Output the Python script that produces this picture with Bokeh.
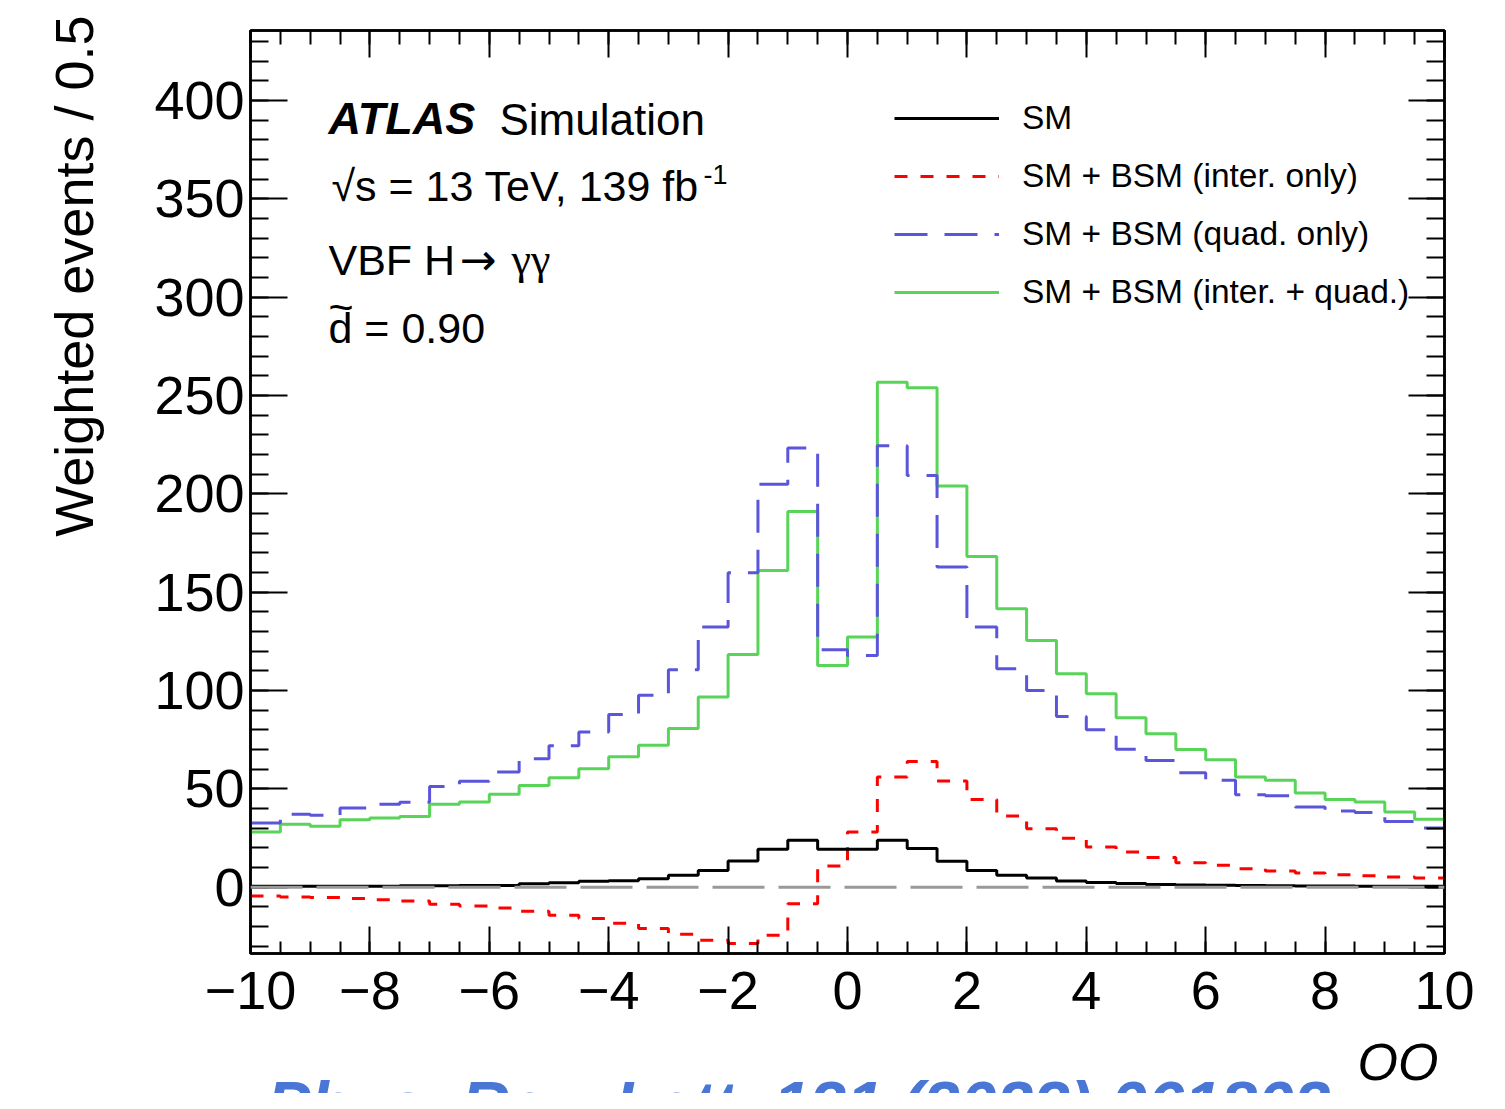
import numpy as np
from bokeh.plotting import figure
from bokeh.layouts import row, column
from bokeh.models import (Range1d, LinearAxis, FixedTicker, Span, Label, Legend,
                          LegendItem, CustomJSTickFormatter)
from bokeh.embed import file_html
from bokeh.resources import INLINE

# ---------------- data ----------------
BIN_LOW = -10.0
BIN_WIDTH = 0.5
N_BINS = 40

SM = [0.5, 0.5, 0.5, 0.6, 0.6, 0.8, 0.8, 0.9, 0.9, 1.8, 2.3, 3.1, 3.3,
      4.4, 6.1, 8.6, 13.4, 19.3, 23.9, 19.3, 19.3, 23.9, 19.7, 13.2, 8.6,
      6.1, 4.7, 3.2, 2.4, 1.9, 1.4, 1.2, 1.0, 0.9, 0.8, 0.7, 0.7, 0.6, 0.6, 0.5]

INTER = [-4.4, -4.9, -5.2, -5.7, -6.3, -7.0, -8.6, -9.5, -10.5, -12.2, -14.2, -15.9, -18.3,
         -21.0, -23.9, -26.9, -28.6, -24.4, -8.3, 10.8, 28.1, 56.1, 64.0, 54.0, 44.6,
         36.2, 29.8, 25.0, 20.5, 17.9, 15.1, 12.5, 11.2, 9.5, 8.3, 7.3, 6.4, 5.9, 5.2, 4.7]

QUAD = [32.7, 37.2, 36.6, 40.3, 42.2, 43.2, 51.3, 53.9, 58.6, 65.4, 72.0, 78.9, 87.8,
        97.6, 110.6, 132.3, 159.9, 204.9, 223.3, 120.8, 117.9, 224.5, 209.4, 162.8, 132.3,
        111.1, 100.1, 86.9, 80.1, 70.2, 64.5, 58.3, 54.4, 47.1, 46.5, 40.8, 38.8, 38.0, 33.5, 30.2]

FULL = [28.1, 32.0, 31.0, 34.4, 35.2, 36.0, 42.2, 43.4, 47.3, 51.8, 55.7, 60.3, 66.4,
        72.2, 80.7, 96.7, 118.4, 161.1, 191.1, 112.8, 127.2, 256.8, 254.0, 204.0, 168.2,
        141.6, 125.5, 108.6, 98.4, 86.2, 78.1, 70.0, 64.9, 56.1, 54.4, 47.9, 44.7, 43.4, 38.3, 34.6]

SERIES_LABELS = ["SM", "SM + BSM (inter. only)", "SM + BSM (quad. only)",
                 "SM + BSM (inter. + quad.)"]

X_TICKS = [-10, -8, -6, -4, -2, 0, 2, 4, 6, 8, 10]
X_TICK_LABELS = ["\u221210", "\u22128", "\u22126", "\u22124", "\u22122", "0", "2", "4", "6", "8", "10"]
Y_TICKS = [0, 50, 100, 150, 200, 250, 300, 350, 400]

X_TITLE = "OO"
Y_TITLE = "Weighted events / 0.5"
REF_TEXT = "Phys. Rev. Lett. 131 (2023) 061802"

# ---------------- layout ----------------
FONT = "Liberation Sans"
Y_MIN, Y_MAX = -33.65, 435.6
CANVAS_W, CANVAS_H = 1489, 1093
LEFT_W = 110            # strip holding the y title
BOTTOM_H = 60           # strip holding the x title / reference line
FRAME_L, FRAME_R, FRAME_T, FRAME_B = 250, 1444, 30, 953
BASE_SHIFT = 0.37       # alphabetic-baseline correction (fraction of font size)


def xd(px):
    return -10 + (px - FRAME_L) / 59.7


def yd(py):
    return (886.8 - py) / 1.967


def fpx(size):
    return float(size.replace("px", ""))


edges = [BIN_LOW + BIN_WIDTH * i for i in range(N_BINS + 1)]

p = figure(frame_width=FRAME_R - FRAME_L, frame_height=FRAME_B - FRAME_T,
           x_range=Range1d(-10, 10), y_range=Range1d(Y_MIN, Y_MAX),
           output_backend="svg", toolbar_location=None,
           x_axis_location=None, y_axis_location=None,
           min_border_left=FRAME_L - LEFT_W, min_border_right=CANVAS_W - FRAME_R,
           min_border_top=FRAME_T, min_border_bottom=CANVAS_H - BOTTOM_H - FRAME_B,
           background_fill_color="white", border_fill_color="white")
p.grid.visible = False
p.outline_line_color = "black"
p.outline_line_width = 2.5

# ---------------- axes ----------------
y_minor = list(range(-30, 440, 10))
x_minor = [BIN_LOW + BIN_WIDTH * i for i in range(N_BINS + 1)]


def style_axis(ax, tin, tmin):
    ax.major_tick_in = tin
    ax.major_tick_out = 0
    ax.minor_tick_in = tmin
    ax.minor_tick_out = 0
    ax.axis_line_width = 2.5
    ax.major_tick_line_width = 2
    ax.minor_tick_line_width = 2
    ax.major_label_text_font = FONT
    ax.major_label_text_font_size = "54px"
    ax.major_label_text_color = "black"


left = LinearAxis(ticker=FixedTicker(ticks=Y_TICKS, minor_ticks=y_minor))
style_axis(left, 37, 18)
left.major_label_standoff = 6
p.add_layout(left, "left")

right = LinearAxis(ticker=FixedTicker(ticks=Y_TICKS, minor_ticks=y_minor),
                   formatter=CustomJSTickFormatter(code="return ''"))
style_axis(right, 36, 18)
right.major_label_text_font_size = "0px"
p.add_layout(right, "right")

bottom = LinearAxis(ticker=FixedTicker(ticks=X_TICKS, minor_ticks=x_minor))
style_axis(bottom, 27, 12)
bottom.major_label_overrides = {float(t): l for t, l in zip(X_TICKS, X_TICK_LABELS)}
bottom.major_label_standoff = 18
p.add_layout(bottom, "below")

top = LinearAxis(ticker=FixedTicker(ticks=X_TICKS, minor_ticks=x_minor),
                 formatter=CustomJSTickFormatter(code="return ''"))
style_axis(top, 27, 14)
top.major_label_text_font_size = "0px"
p.add_layout(top, "above")

# ---------------- histograms ----------------
def closed(vals):
    return list(vals) + [vals[-1]]


r_full = p.step(edges, closed(FULL), mode="after", line_color="#58d458", line_width=3)
r_quad = p.step(edges, closed(QUAD), mode="after", line_color="#5a55db", line_width=3,
                line_dash="33 17")
r_inter = p.step(edges, closed(INTER), mode="after", line_color="#ff0000", line_width=3,
                 line_dash="13 13")
r_sm = p.step(edges, closed(SM), mode="after", line_color="black", line_width=3)

p.add_layout(Span(location=0, dimension="width", line_color="#999999",
                  line_width=3, line_dash="52 14"))

# ---------------- legend ----------------
legend = Legend(items=[LegendItem(label=SERIES_LABELS[0], renderers=[r_sm]),
                       LegendItem(label=SERIES_LABELS[1], renderers=[r_inter]),
                       LegendItem(label=SERIES_LABELS[2], renderers=[r_quad]),
                       LegendItem(label=SERIES_LABELS[3], renderers=[r_full])],
                location=(644, 632), glyph_width=105, glyph_height=58,
                label_standoff=23, spacing=0, padding=0, margin=0,
                border_line_color=None, background_fill_alpha=0,
                label_text_font=FONT, label_text_font_size="33.5px",
                label_text_baseline="middle", label_text_color="black")
p.add_layout(legend)


# ---------------- texts inside the frame ----------------
def add_text(text, px, py, size, style="normal", font=FONT, color="black"):
    y_anchor = py - BASE_SHIFT * fpx(size)
    p.add_layout(Label(x=xd(px), y=yd(y_anchor), text=text, text_font=font,
                       text_font_size=size, text_font_style=style, text_align="left",
                       text_baseline="alphabetic", text_color=color))


add_text("ATLAS", 328, 135, "45px", style="bold italic")
add_text("Simulation", 499, 135, "44px")
add_text("\u221as = 13 TeV, 139 fb", 331, 201, "43px")
add_text("-1", 703, 184, "27px")
add_text("VBF H", 328, 275, "43px")
add_text("\u2192", 459, 275, "44px", font="DejaVu Sans")
add_text("\u03b3\u03b3", 511, 275, "44px", font="Liberation Serif")
add_text("~", 328, 322, "43px")
add_text("d = 0.90", 328, 343, "43px")

# ---------------- left strip: y title ----------------
pl = figure(width=LEFT_W, height=CANVAS_H, x_range=Range1d(0, LEFT_W),
            y_range=Range1d(CANVAS_H, 0), output_backend="svg", toolbar_location=None,
            x_axis_location=None, y_axis_location=None,
            min_border=0, outline_line_color=None,
            background_fill_color="white", border_fill_color="white")
pl.grid.visible = False
pl.add_layout(Label(x=93 - BASE_SHIFT * 54, y=15, text=Y_TITLE, text_font=FONT,
                    text_font_size="54px", text_align="right", text_baseline="alphabetic",
                    angle=np.pi / 2, text_color="black"))

# ---------------- bottom strip: x title and reference ----------------
# (its frame is aligned with the main frame by the column layout)
pb = figure(width=CANVAS_W - LEFT_W, height=BOTTOM_H, x_range=Range1d(FRAME_L, FRAME_R),
            y_range=Range1d(CANVAS_H, CANVAS_H - BOTTOM_H), output_backend="svg",
            toolbar_location=None, x_axis_location=None, y_axis_location=None,
            min_border=0, outline_line_color=None,
            background_fill_color="white", border_fill_color="white")
pb.grid.visible = False
pb.add_layout(Label(x=1438, y=1081 - BASE_SHIFT * 52, text=X_TITLE, text_font=FONT,
                    text_font_size="52px", text_font_style="italic", text_align="right",
                    text_baseline="alphabetic", text_color="black"))
pb.add_layout(Label(x=266, y=1129 - BASE_SHIFT * 66, text=REF_TEXT, text_font=FONT,
                    text_font_size="66px", text_font_style="bold italic", text_align="left",
                    text_baseline="alphabetic", text_color="#4a76d6"))

layout = row(pl, column(p, pb))
open("out.html", "w").write(file_html(layout, INLINE))
